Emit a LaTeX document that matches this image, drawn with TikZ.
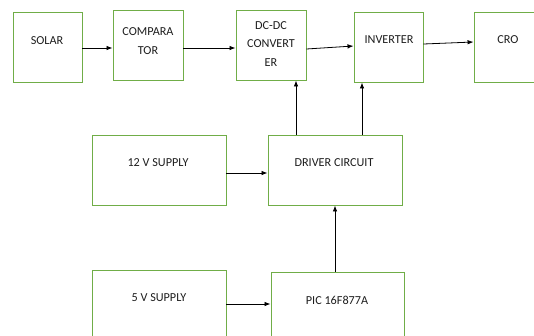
\documentclass[tikz,border=0pt]{standalone}
\usepackage{fontspec}
\setmainfont{Carlito}
\usetikzlibrary{arrows.meta}
\definecolor{boxgreen}{RGB}{112,173,71}
\definecolor{txt}{RGB}{30,30,30}
\begin{document}
\begin{tikzpicture}[x=1pt,y=-1pt,
  blk/.style={draw=boxgreen,line width=0.9pt,fill=white,inner sep=0pt},
  lbl/.style={font=\fontsize{12.2}{18.5}\selectfont,text=txt,inner sep=0pt,align=center},
  arr/.style={-{Latex[length=6pt,width=4.5pt]},line width=0.8pt,black}]
\useasboundingbox (0,0) rectangle (534,335);
\clip (0,0) rectangle (534,335);
% boxes
\node[blk,minimum width=69pt,minimum height=70pt] (solar) at (47.5,47) {};
\node[blk,minimum width=70pt,minimum height=70pt] (comp) at (148,45) {};
\node[blk,minimum width=70pt,minimum height=70pt] (dcdc) at (271,45) {};
\node[blk,minimum width=69pt,minimum height=70pt] (inv) at (388.5,47) {};
\node[blk,minimum width=69pt,minimum height=70pt] (cro) at (508.5,47) {};
\node[blk,minimum width=134pt,minimum height=70pt] (s12) at (159,170) {};
\node[blk,minimum width=134pt,minimum height=70pt] (drv) at (335,170) {};
\node[blk,minimum width=134pt,minimum height=76pt] (s5) at (159,308) {};
\node[blk,minimum width=133pt,minimum height=76pt] (pic) at (337.5,310) {};
% texts
\node[lbl] at (47,41) {SOLAR};
\node[lbl] at (148,41) {COMPARA\\TOR};
\node[lbl] at (271,44) {DC-DC\\CONVERT\\ER};
\node[lbl] at (389,40) {INVERTER};
\node[lbl] at (508,40) {CRO};
\node[lbl] at (158,163) {12 V SUPPLY};
\node[lbl] at (334,163) {DRIVER CIRCUIT};
\node[lbl] at (159,298) {5 V SUPPLY};
\node[lbl] at (337,300) {PIC 16F877A};
% connectors
\draw[arr] (solar.east |- 0,48) -- (comp.west |- 0,48);
\draw[arr] (comp.east |- 0,48) -- (dcdc.west |- 0,48);
\draw[arr] (dcdc.east |- 0,49) -- (inv.west |- 0,46);
\draw[arr] (inv.east |- 0,44) -- (cro.west |- 0,42);
\draw[arr] (s12.east |- 0,173) -- (drv.west |- 0,173);
\draw[arr] (drv.north -| 296,0) -- (dcdc.south -| 296,0);
\draw[arr] (drv.north -| 362,0) -- (inv.south -| 362,0);
\draw[arr] (s5.east |- 0,304) -- (pic.west |- 0,304);
\draw[arr] (pic.north -| 335,0) -- (drv.south -| 335,0);
\end{tikzpicture}
\end{document}
